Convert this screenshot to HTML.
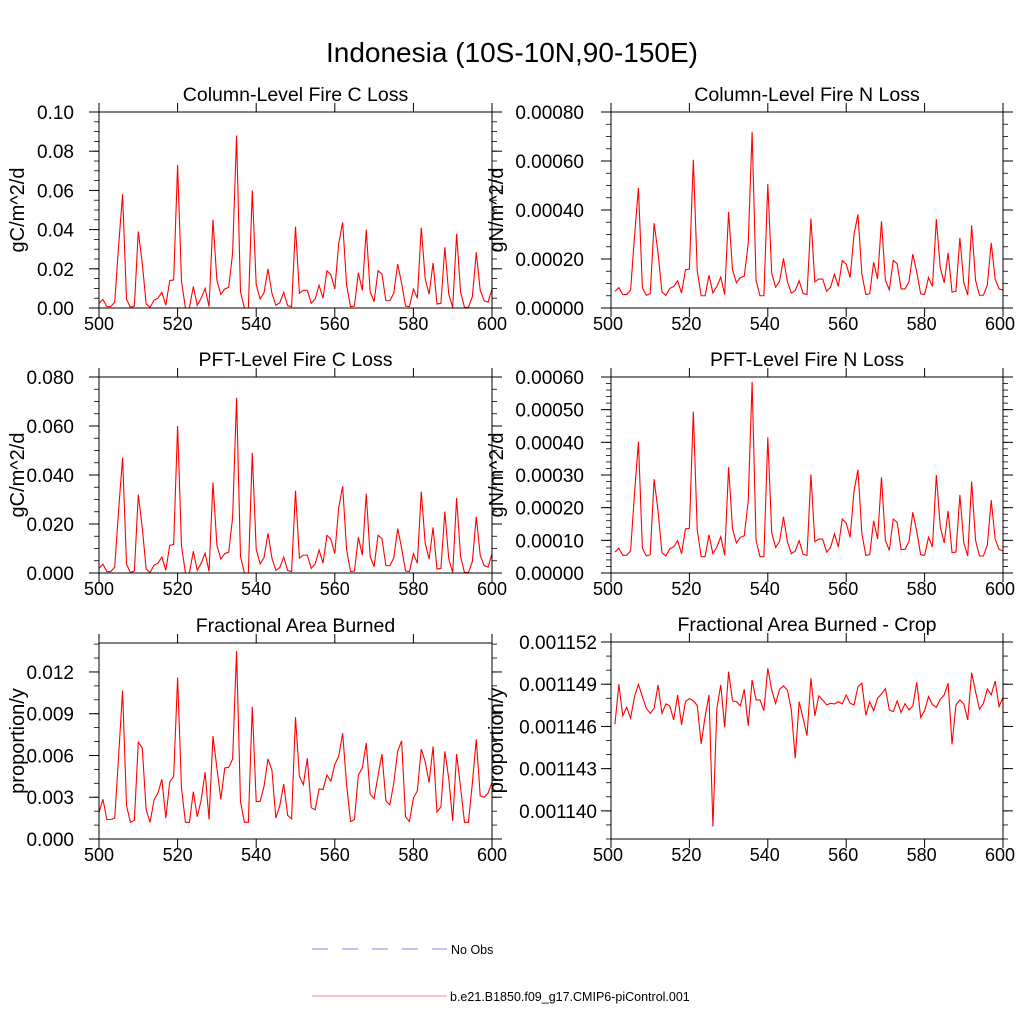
<!DOCTYPE html>
<html><head><meta charset="utf-8"><style>
html,body{margin:0;padding:0;background:#fff;}
svg{display:block;font-family:"Liberation Sans",sans-serif;}
</style></head><body>
<svg id="chart" width="1024" height="1024" viewBox="0 0 1024 1024" xmlns="http://www.w3.org/2000/svg">
<rect width="1024" height="1024" fill="#fff"/>
<text x="512" y="62" font-size="28" text-anchor="middle">Indonesia (10S-10N,90-150E)</text>
<g id="panels"></g>
<g>
<line x1="312" y1="949" x2="447" y2="949" stroke="#8888ee" stroke-width="1" stroke-dasharray="16,14"/>
<text x="451" y="954" font-size="12.5">No Obs</text>
<line x1="312" y1="996" x2="447" y2="996" stroke="#f48a8a" stroke-width="1"/>
<text x="450" y="1001" font-size="12.5">b.e21.B1850.f09_g17.CMIP6-piControl.001</text>
</g>
</svg>
<script>
const colC = [2.4,4.4,0.7,0.7,3,32,58,4.4,0.3,1,39,23,2,0.3,4,5,8,1.4,14,14.3,73,13.4,0,0,11,1.4,5,10,0.7,45,14,7,9.7,10.5,28,88,8.3,0,0,60,12,4.6,7.8,20,7.5,1.4,2.7,8,1.2,0.7,41.5,7.5,9,9,2.4,4.6,11.6,5,19,17,9.7,33,43.7,11.7,0.7,1,18,9,40,8.3,3.2,19,17.3,3.7,3.7,7.5,22.4,12.6,1,0.7,9.7,5,41,15,7,23,2,2.4,31,7,0.3,37.8,8.3,0.3,0.3,5.8,28.4,9,3.7,3,9.7];
const colN = [6.8,8.3,5.5,5.5,7.3,29.3,49,8.3,5.2,5.8,34.6,22.5,6.5,5.2,8,8.8,11.1,6.1,15.6,15.9,60.5,15.2,5,5,13.4,6.1,8.8,12.6,5.5,39.2,15.6,10.3,12.4,13,26.3,71.9,11.3,5,5,50.6,14.1,8.5,10.9,20.2,10.7,6.1,7.1,11.1,5.9,5.5,36.5,10.7,11.8,11.8,6.8,8.5,13.8,8.8,19.4,17.9,12.4,30.1,38.2,13.9,5.5,5.8,18.7,11.8,35.4,11.3,7.4,19.4,18.1,7.8,7.8,10.7,22,14.6,5.8,5.5,12.4,8.8,36.2,16.4,10.3,22.5,6.5,6.8,28.6,10.3,5.2,33.7,11.3,5.2,5.2,9.4,26.6,11.8,7.8,7.3,12.4];
const pftC = [1.9,3.6,0.6,0.6,2.4,26,47,3.6,0.2,0.8,32,18.6,1.6,0.2,3.2,4,6.5,1.1,11.3,11.6,60,10.9,0,0,8.9,1.1,4,8.1,0.6,37,11.3,5.7,7.9,8.5,22.7,71.5,6.7,0,0,49,9.7,3.7,6.3,16.2,6.1,1.1,2.2,6.5,1,0.6,33.6,6.1,7.3,7.3,1.9,3.7,9.4,4,15.4,13.8,7.9,26.7,35.4,9.5,0.6,0.8,14.6,7.3,32.4,6.7,2.6,15.4,14,3,3,6.1,18.1,10.2,0.8,0.6,7.9,4,33.2,12.2,5.7,18.6,1.6,1.9,25.1,5.7,0.2,30.6,6.7,0.2,0.2,4.7,23,7.3,3,2.4,7.9];
const pftN = [6.4,7.6,5.4,5.4,6.8,24.4,40.2,7.6,5.2,5.6,28.7,19,6.2,5.2,7.4,8,9.9,5.9,13.5,13.7,49.4,13.2,5,5,11.7,5.9,8,11.1,5.4,32.4,13.5,9.2,10.9,11.4,22,58.5,10,5,5,41.5,12.3,7.8,9.7,17.2,9.6,5.9,6.7,9.9,5.7,5.4,30.2,9.6,10.4,10.4,6.4,7.8,12,8,16.5,15.3,10.9,25.1,31.6,12.1,5.4,5.6,16,10.4,29.3,10,6.9,16.5,15.5,7.2,7.2,9.6,18.6,12.7,5.6,5.4,10.9,8,30,14.1,9.2,19,6.2,6.4,23.9,9.2,5.2,28,10,5.2,5.2,8.5,22.3,10.4,7.2,6.8,10.9];
const farea = [1.9,2.85,1.4,1.4,1.5,6,10.66,2.4,1.2,1.35,6.95,6.55,2.1,1.2,2.8,3.3,4.3,1.5,4.1,4.5,11.6,3.6,1.2,1.2,3.4,1.6,2.8,4.8,1.4,7.4,5.1,2.85,5.1,5.15,5.75,13.5,2.7,1.2,1.2,9.5,2.7,2.7,3.8,5.75,4.95,1.5,2.4,3.95,1.7,1.45,8.75,4.5,3.9,5.8,2.25,2.1,3.6,3.55,4.6,4.15,5.35,5.95,7.6,3.9,1.25,1.4,4.6,5.1,6.9,3.2,2.9,4.55,6.1,2.75,2.45,4.0,6.3,7.05,1.6,1.25,2.95,3.45,6.45,5.55,4.05,6.65,1.95,2.3,6.3,4.35,1.3,6.1,3.7,1.2,1.2,4.0,7.15,3.1,3.0,3.3,4.05];
const cropA = [1146.15,1148.99,1146.75,1147.36,1146.58,1148.12,1148.99,1148.12,1147.29,1146.93,1147.29,1148.95,1146.93,1147.60,1147.46,1146.46,1148.24,1146.11,1147.76,1147.98,1147.81,1147.50,1144.76,1146.70,1148.24,1138.89,1147.29,1148.95,1145.94,1149.89,1147.81,1147.76,1147.46,1148.64,1146.04,1149.30,1147.88,1147.88,1147.12,1150.13,1148.59,1147.64,1148.64,1148.88,1148.59,1147.17,1143.74,1147.76,1146.58,1145.35,1149.42,1146.75,1148.17,1147.88,1147.53,1147.64,1147.60,1147.76,1147.60,1148.24,1147.64,1147.53,1148.83,1149.07,1146.79,1147.76,1147.12,1148.00,1148.31,1148.69,1147.17,1147.05,1147.81,1146.98,1147.62,1147.17,1147.46,1149.14,1146.63,1147.12,1148.12,1147.55,1147.36,1147.93,1148.24,1149.07,1144.73,1147.53,1147.88,1147.60,1146.46,1149.82,1148.47,1147.22,1147.64,1148.66,1148.24,1149.23,1147.41,1148.07];
const xTickLabels = ["500","520","540","560","580","600"];
const yTicks1 = ["0.00","0.02","0.04","0.06","0.08","0.10"];
const yTicks2 = ["0.00000","0.00020","0.00040","0.00060","0.00080"];
const yTicks3 = ["0.000","0.020","0.040","0.060","0.080"];
const yTicks4 = ["0.00000","0.00010","0.00020","0.00030","0.00040","0.00050","0.00060"];
const yTicks5 = ["0.000","0.003","0.006","0.009","0.012"];
const yTicks6 = ["0.001140","0.001143","0.001146","0.001149","0.001152"];

const NS="http://www.w3.org/2000/svg";
const root=document.getElementById('panels');
function mk(tag,attrs,parent){const e=document.createElementNS(NS,tag);for(const k in attrs)e.setAttribute(k,attrs[k]);(parent||root).appendChild(e);return e;}

const panels=[
 {id:'col-c',title:'Column-Level Fire C Loss',ylab:'gC/m^2/d',L:99,R:492,T:112,B:308,ymin:0,ymax:0.1,scale:1e-3,data:colC,ticks:yTicks1,minor:0.005,x0:500,lblGap:25},
 {id:'col-n',title:'Column-Level Fire N Loss',ylab:'gN/m^2/d',L:611,R:1003,T:112,B:308,ymin:0,ymax:0.0008,scale:1e-5,data:colN,ticks:yTicks2,minor:0.00005,x0:501,lblGap:27},
 {id:'pft-c',title:'PFT-Level Fire C Loss',ylab:'gC/m^2/d',L:99,R:492,T:377,B:573,ymin:0,ymax:0.08,scale:1e-3,data:pftC,ticks:yTicks3,minor:0.005,x0:500,lblGap:25},
 {id:'pft-n',title:'PFT-Level Fire N Loss',ylab:'gN/m^2/d',L:611,R:1003,T:377,B:573,ymin:0,ymax:0.0006,scale:1e-5,data:pftN,ticks:yTicks4,minor:0.00002,x0:501,lblGap:27},
 {id:'farea',title:'Fractional Area Burned',ylab:'proportion/y',L:99,R:492,T:643,B:839,ymin:0,ymax:0.01408,scale:1e-3,data:farea,ticks:yTicks5,minor:0.001,x0:500,lblGap:25},
 {id:'farea-crop',title:'Fractional Area Burned - Crop',ylab:'proportion/y',L:611,R:1003,T:642,B:839,ymin:0.001138,ymax:0.001152,scale:1e-6,data:cropA,ticks:yTicks6,minor:0.000001,x0:501,lblGap:14}
];

panels.forEach(p=>{
 const g=mk('g',{});
 
 
 const xs=v=>p.L+(v-500)/100*(p.R-p.L);
 const ys=v=>p.B-(v-p.ymin)/(p.ymax-p.ymin)*(p.B-p.T);
 const cp=mk('clipPath',{id:'clip-'+p.id},g);
 mk('rect',{x:p.L,y:p.T,width:p.R-p.L,height:p.B-p.T},cp);
 const pts=p.data.map((v,i)=>xs(p.x0+i).toFixed(2)+','+ys(v*p.scale).toFixed(2)).join(' ');
 const ln=mk('polyline',{points:pts,fill:'none',stroke:'#ff0000','stroke-width':1.1,'clip-path':'url(#clip-'+p.id+')'},g);
 
 
 const fr=mk('rect',{x:p.L,y:p.T,width:p.R-p.L,height:p.B-p.T,fill:'none',stroke:'#000','stroke-width':1},g);
 
 
 xTickLabels.forEach(lbl=>{
  const v=+lbl, x=xs(v);
  mk('line',{x1:x,y1:p.B,x2:x,y2:p.B+9,stroke:'#000'},g);
  mk('line',{x1:x,y1:p.T,x2:x,y2:p.T-9,stroke:'#000'},g);
  const t=mk('text',{x:x+(p.L>500?-3:0),y:p.B+22,'font-size':18,'text-anchor':'middle'},g);
  t.textContent=lbl;
  
  
 });
 const nMin=Math.round((p.ymax-p.ymin)/p.minor);
 for(let k=0;k<=nMin;k++){
  const y=ys(p.ymin+k*p.minor);
  if(y<p.T-0.5)continue;
  mk('line',{x1:p.L,y1:y,x2:p.L-5,y2:y,stroke:'#000','stroke-width':0.8},g);
  mk('line',{x1:p.R,y1:y,x2:p.R+5,y2:y,stroke:'#000','stroke-width':0.8},g);
 }
 p.ticks.forEach(lbl=>{
  const y=ys(+lbl);
  mk('line',{x1:p.L,y1:y,x2:p.L-10,y2:y,stroke:'#000'},g);
  mk('line',{x1:p.R,y1:y,x2:p.R+10,y2:y,stroke:'#000'},g);
  const t=mk('text',{x:p.L-p.lblGap,y:y+7,'font-size':19,'text-anchor':'end'},g);
  t.textContent=lbl;
  
  
 });
 const tt=mk('text',{x:(p.L+p.R)/2,y:p.T-11,'font-size':19.5,'text-anchor':'middle'},g);
 tt.textContent=p.title;
 
 
 const yl=p.L>500?496:17, yc=(p.T+p.B)/2;
 const ylt=mk('text',{x:yl,y:yc,'font-size':20,'text-anchor':'middle',transform:'rotate(-90 '+yl+' '+yc+') translate(0 7)'},g);
 ylt.textContent=p.ylab;
 
 
});
</script>
</body></html>
